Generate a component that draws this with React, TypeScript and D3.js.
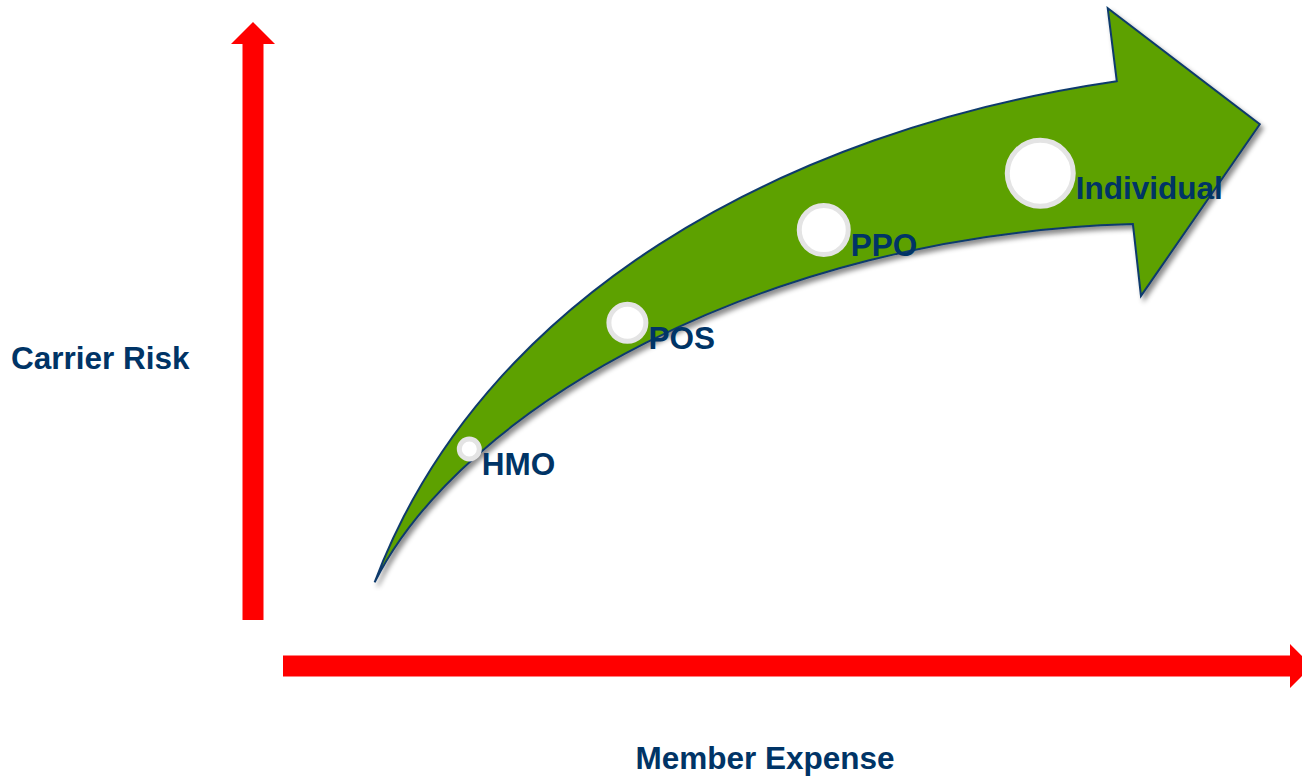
import * as d3 from "d3";

// plan types along the trend (member expense vs. carrier risk, arbitrary units 0-100)
const plans = ["HMO", "POS", "PPO", "Individual"];
const memberExpense = [18.5, 34.2, 53.7, 75.2];
const carrierRisk = [28.6, 49.7, 65.2, 74.7];
const planSize = [2.5, 4.2, 5.4, 7.1];

// trend arrow outline, in the same data units
const arrowTail: [number, number] = [9.1, 6.3];
const arrowUpper: [number, number][] = [
  [19.6, 53.5],
  [49.4, 81.9],
  [82.8, 90.1],
];
const arrowHead: [number, number][] = [
  [81.9, 102.3],
  [97.0, 82.9],
  [85.2, 54.2],
  [84.4, 66.2],
];
const arrowLower: [number, number][] = [
  [47.4, 64.5],
  [17.6, 35.0],
  [9.1, 6.3],
];

const xLabel = "Member Expense";
const yLabel = "Carrier Risk";

const width = 1302;
const height = 778;
const textColor = "#003466";
const font = "'Liberation Sans', Arial, sans-serif";
const fontSize = 31.5;

export default function App() {
  const x = d3.scaleLinear().domain([0, 100]).range([283, 1290]);
  const y = d3.scaleLinear().domain([0, 100]).range([620, 22]);
  const r = d3.scaleLinear().domain([0, 8]).range([0, 40]);

  // green trend arrow
  const p = d3.path();
  p.moveTo(x(arrowTail[0]), y(arrowTail[1]));
  p.bezierCurveTo(
    x(arrowUpper[0][0]), y(arrowUpper[0][1]),
    x(arrowUpper[1][0]), y(arrowUpper[1][1]),
    x(arrowUpper[2][0]), y(arrowUpper[2][1]),
  );
  arrowHead.forEach(([a, b]) => p.lineTo(x(a), y(b)));
  p.bezierCurveTo(
    x(arrowLower[0][0]), y(arrowLower[0][1]),
    x(arrowLower[1][0]), y(arrowLower[1][1]),
    x(arrowLower[2][0]), y(arrowLower[2][1]),
  );
  p.closePath();

  // red axes with arrow heads
  const [x0, x1] = x.range();
  const [y0, y1] = y.range();
  const half = 10.5;
  const head = 22;
  const axisX = x0 - 30; // vertical axis sits left of the plot
  const axisY = y0 + 46; // horizontal axis sits below the plot
  const vAxis = [
    [axisX - half, y0],
    [axisX - half, y1 + head],
    [axisX - head, y1 + head],
    [axisX, y1],
    [axisX + head, y1 + head],
    [axisX + half, y1 + head],
    [axisX + half, y0],
  ];
  const hAxis = [
    [x0, axisY - half],
    [x1, axisY - half],
    [x1, axisY - head],
    [x1 + head, axisY],
    [x1, axisY + head],
    [x1, axisY + half],
    [x0, axisY + half],
  ];
  const poly = (pts: number[][]) => "M" + pts.map((d) => d.join(",")).join("L") + "Z";

  return (
    <svg
      width={width}
      height={height}
      style={{ position: "absolute", left: 0, top: 0, background: "#fff" }}
    >
      <defs>
        <filter id="shadow" x="-10%" y="-10%" width="130%" height="130%">
          <feDropShadow dx="3" dy="4" stdDeviation="2.5" floodColor="#000" floodOpacity="0.45" />
        </filter>
      </defs>

      <path d={poly(vAxis)} fill="#ff0000" />
      <path d={poly(hAxis)} fill="#ff0000" />

      <path
        d={p.toString()}
        fill="#5da101"
        stroke="#103a6c"
        strokeWidth={2}
        strokeLinejoin="miter"
        filter="url(#shadow)"
      />

      {plans.map((name, i) => {
        const cx = x(memberExpense[i]);
        const cy = y(carrierRisk[i]);
        const rad = r(planSize[i]);
        return (
          <g key={name}>
            <circle cx={cx} cy={cy} r={rad - 2.5} fill="#fff" stroke="#e4e4e4" strokeWidth={5} />
            <text
              x={cx + rad}
              y={cy + 26}
              fill={textColor}
              fontFamily={font}
              fontWeight="bold"
              fontSize={fontSize}
            >
              {name}
            </text>
          </g>
        );
      })}

      <text x={11} y={369} fill={textColor} fontFamily={font} fontWeight="bold" fontSize={fontSize}>
        {yLabel}
      </text>
      <text
        x={765}
        y={769}
        fill={textColor}
        fontFamily={font}
        fontWeight="bold"
        fontSize={fontSize}
        textAnchor="middle"
      >
        {xLabel}
      </text>
    </svg>
  );
}
